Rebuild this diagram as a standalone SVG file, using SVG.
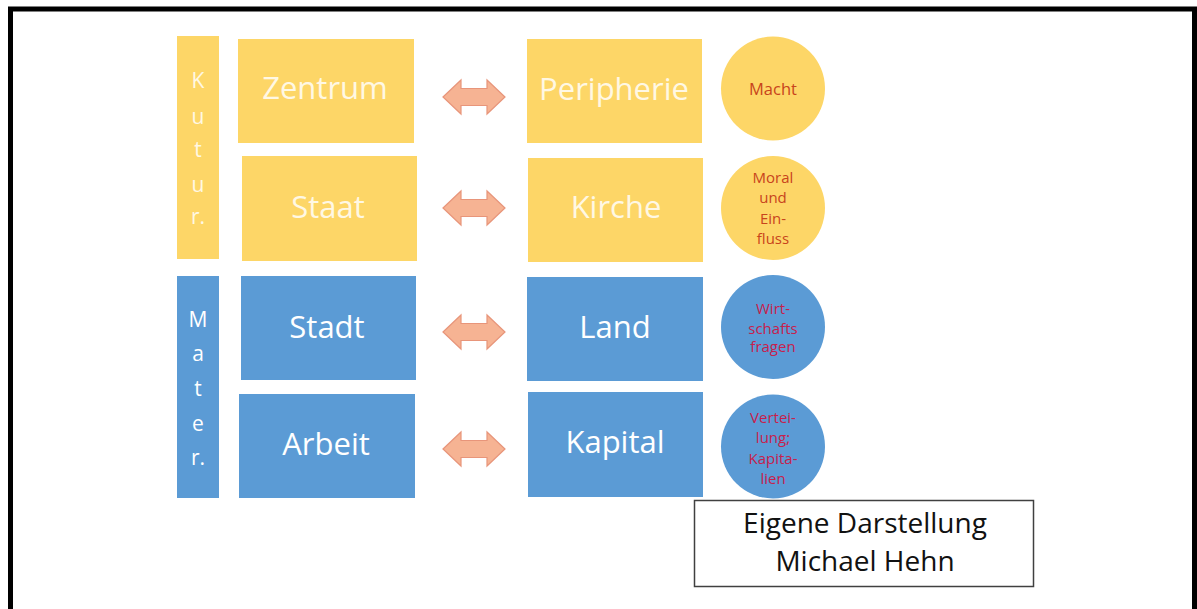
<svg xmlns="http://www.w3.org/2000/svg" width="1197" height="609" viewBox="0 0 1197 609">
  <defs>
    <style>
      .yel { fill: #FDD667; }
      .blu { fill: #5B9BD5; }
      .big { font-family: "Open Sans", "Noto Sans", sans-serif; font-size: 31px; text-anchor: middle; }
      .onyel { fill: #FFF8E4; }
      .onblu { fill: #FFFFFF; }
      .side { font-family: "Open Sans", "Noto Sans", sans-serif; font-size: 21px; text-anchor: middle; }
      .small { font-family: "Open Sans", "Noto Sans", sans-serif; font-size: 15px; text-anchor: middle; }
      .lead { font-size: 16.5px; }
      .redY { fill: #C8441C; }
      .redB { fill: #C8204C; }
      .arrow { fill: #F6B393; stroke: #E8957A; stroke-width: 1.2; stroke-linejoin: miter; }
      .note { font-family: "Open Sans", "Noto Sans", sans-serif; font-size: 28px; text-anchor: middle; fill: #111111; }
    </style>
    <!-- double-headed block arrow centred on the origin -->
    <path id="dbl" d="M -31 0 L -13 -17 L -13 -8.5 L 13 -8.5 L 13 -17 L 31 0 L 13 17 L 13 8.5 L -13 8.5 L -13 17 Z"/>
  </defs>

  <rect x="0" y="0" width="1197" height="609" fill="#FFFFFF"/>
  <!-- outer frame -->
  <rect x="10.5" y="9" width="1184" height="700" fill="none" stroke="#000000" stroke-width="5"/>

  <!-- side bars -->
  <g id="kultur">
    <rect class="yel" x="177" y="36" width="42" height="223"/>
    <text class="side onyel" x="198" y="88">K</text>
    <text class="side onyel" x="198" y="124">u</text>
    <text class="side onyel" x="198" y="157">t</text>
    <text class="side onyel" x="198" y="192">u</text>
    <text class="side onyel" x="198" y="224">r.</text>
  </g>
  <g id="materiell">
    <rect class="blu" x="177" y="276" width="42" height="222"/>
    <text class="side onblu" x="198" y="327">M</text>
    <text class="side onblu" x="198" y="361">a</text>
    <text class="side onblu" x="198" y="396">t</text>
    <text class="side onblu" x="198" y="431">e</text>
    <text class="side onblu" x="198" y="465">r.</text>
  </g>

  <!-- left column -->
  <g id="zentrum">
    <rect class="yel" x="238" y="39" width="176" height="104"/>
    <text class="big onyel" x="325" y="99">Zentrum</text>
  </g>
  <g id="staat">
    <rect class="yel" x="242" y="156" width="175" height="105"/>
    <text class="big onyel" x="328" y="218">Staat</text>
  </g>
  <g id="stadt">
    <rect class="blu" x="241" y="276" width="175" height="104"/>
    <text class="big onblu" x="327" y="338">Stadt</text>
  </g>
  <g id="arbeit">
    <rect class="blu" x="239" y="394" width="176" height="104"/>
    <text class="big onblu" x="326" y="455">Arbeit</text>
  </g>

  <!-- right column -->
  <g id="peripherie">
    <rect class="yel" x="527" y="39" width="175" height="104"/>
    <text class="big onyel" x="614" y="100">Peripherie</text>
  </g>
  <g id="kirche">
    <rect class="yel" x="528" y="158" width="175" height="104"/>
    <text class="big onyel" x="616" y="218">Kirche</text>
  </g>
  <g id="land">
    <rect class="blu" x="527" y="277" width="176" height="104"/>
    <text class="big onblu" x="615" y="338">Land</text>
  </g>
  <g id="kapital">
    <rect class="blu" x="528" y="392" width="175" height="105"/>
    <text class="big onblu" x="615" y="453">Kapital</text>
  </g>

  <!-- circles -->
  <g id="macht">
    <circle class="yel" cx="773" cy="88.5" r="52"/>
    <text class="small lead redY" x="773" y="95">Macht</text>
  </g>
  <g id="moral">
    <circle class="yel" cx="773" cy="208" r="52"/>
    <text class="small redY" x="773" y="183">Moral</text>
    <text class="small redY" x="773" y="203">und</text>
    <text class="small redY" x="773" y="224">Ein-</text>
    <text class="small redY" x="773" y="244">fluss</text>
  </g>
  <g id="wirtschaft">
    <circle class="blu" cx="773" cy="327" r="52"/>
    <text class="small redB" x="773" y="314">Wirt-</text>
    <text class="small redB" x="773" y="334">schafts</text>
    <text class="small redB" x="773" y="352">fragen</text>
  </g>
  <g id="verteilung">
    <circle class="blu" cx="773" cy="446.5" r="52"/>
    <text class="small redB" x="773" y="423">Vertei-</text>
    <text class="small redB" x="773" y="443">lung;</text>
    <text class="small redB" x="773" y="464">Kapita-</text>
    <text class="small redB" x="773" y="484">lien</text>
  </g>

  <!-- connectors -->
  <g id="connectors">
    <use href="#dbl" class="arrow" x="474" y="97"/>
    <use href="#dbl" class="arrow" x="474" y="208"/>
    <use href="#dbl" class="arrow" x="474" y="332"/>
    <use href="#dbl" class="arrow" x="474" y="449"/>
  </g>

  <!-- author note -->
  <g id="credit">
    <rect x="694.5" y="500.5" width="339" height="86" fill="#FFFFFF" stroke="#404040" stroke-width="1.5"/>
    <text class="note" x="865" y="533">Eigene Darstellung</text>
    <text class="note" x="865" y="571">Michael Hehn</text>
  </g>
</svg>
